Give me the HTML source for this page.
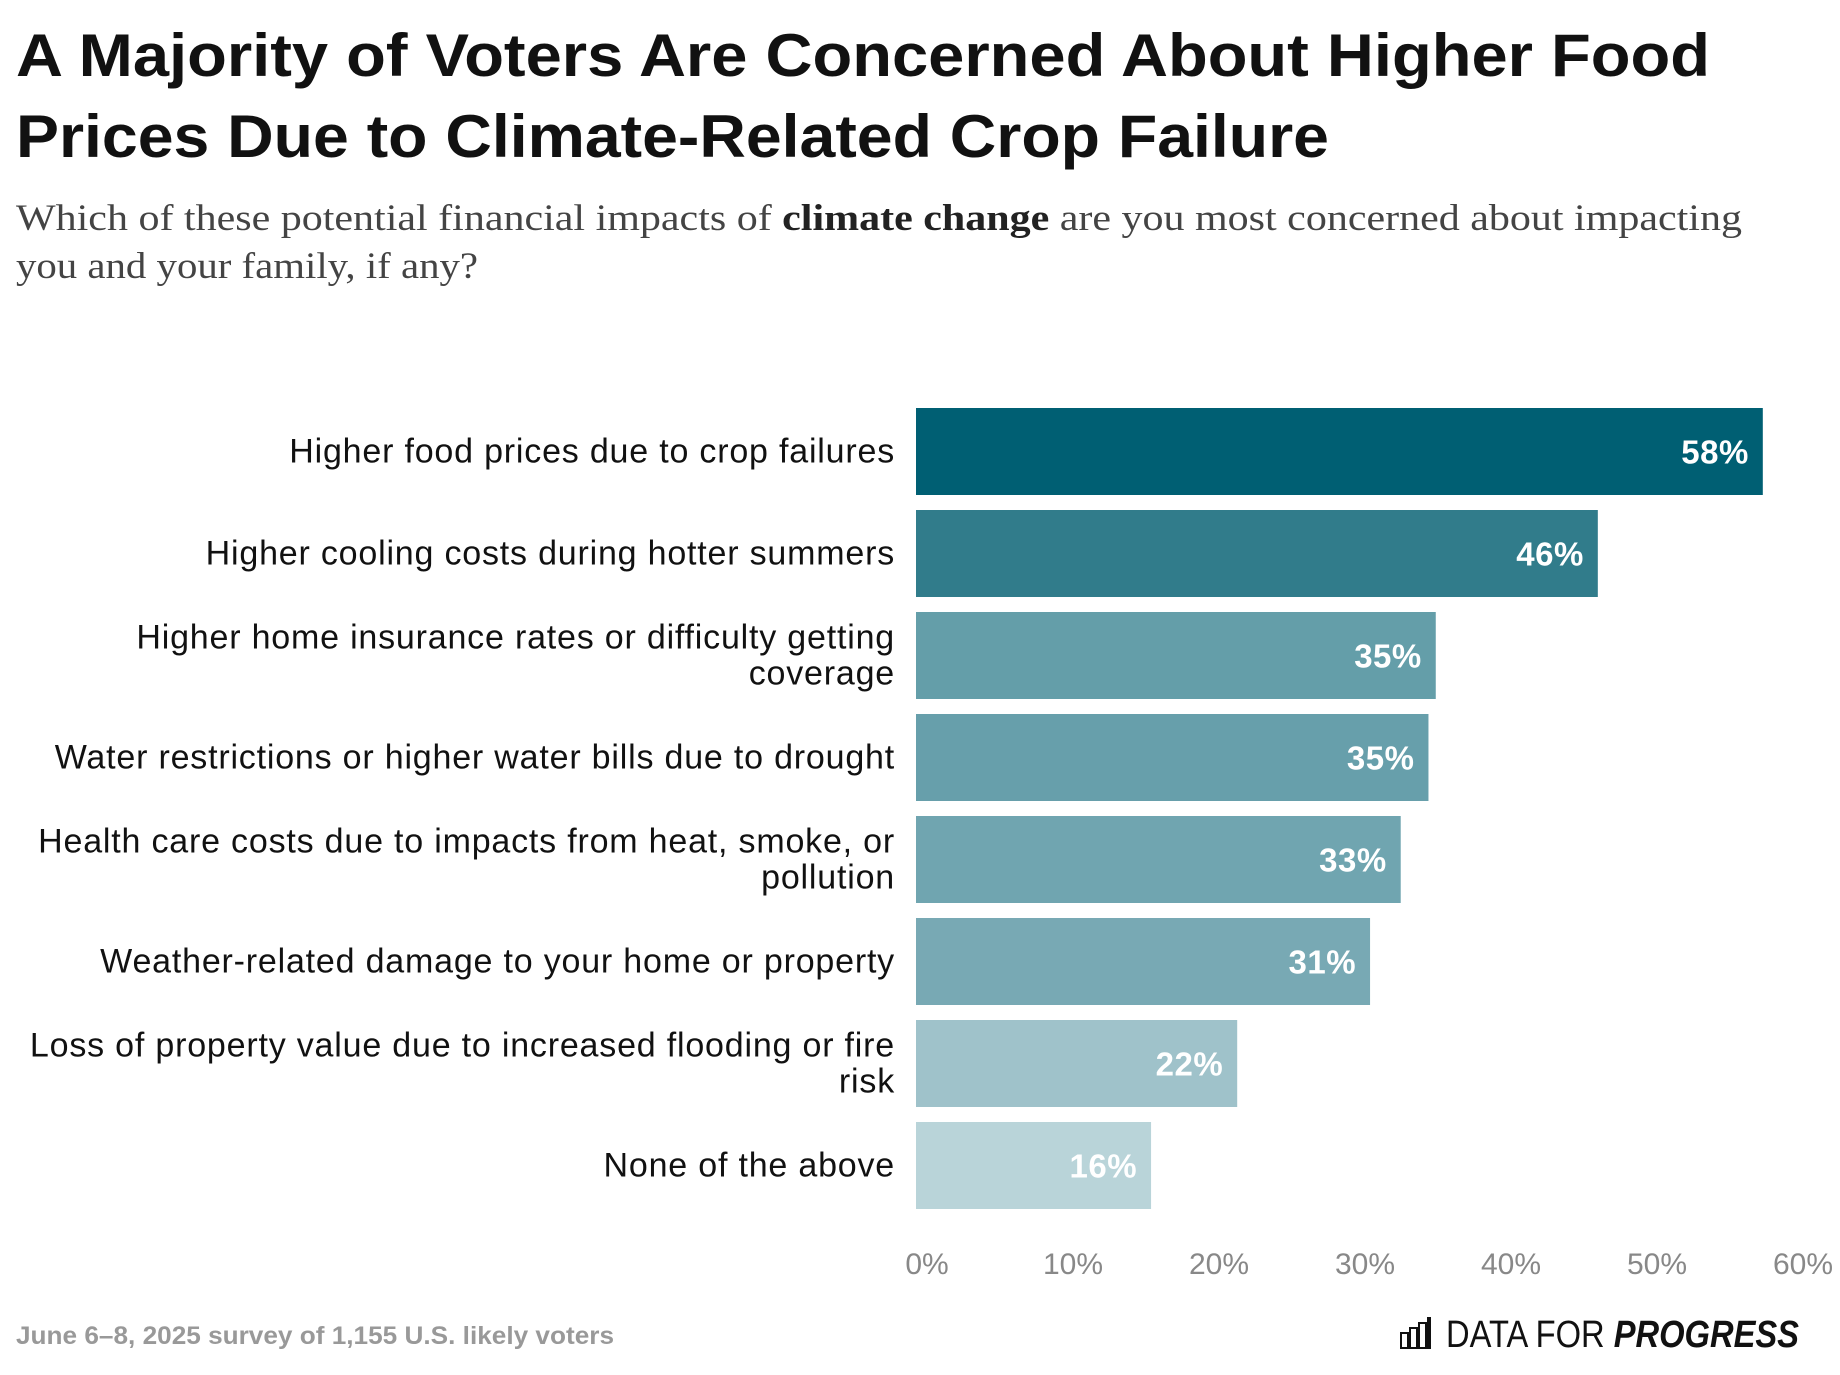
<!DOCTYPE html>
<html><head><meta charset="utf-8">
<style>
body{margin:0;background:#fff;width:1840px;height:1370px;overflow:hidden;font-family:"Liberation Sans",sans-serif;}
</style></head>
<body>
<svg id="chart" width="1840" height="1370" viewBox="0 0 1840 1370" xmlns="http://www.w3.org/2000/svg">
<text x="16" y="76" font-family="Liberation Sans, sans-serif" font-weight="bold" font-size="60" fill="#111" textLength="1694" lengthAdjust="spacingAndGlyphs">A Majority of Voters Are Concerned About Higher Food</text>
<text x="16" y="157" font-family="Liberation Sans, sans-serif" font-weight="bold" font-size="60" fill="#111" textLength="1313" lengthAdjust="spacingAndGlyphs">Prices Due to Climate-Related Crop Failure</text>
<text x="16" y="230" font-family="Liberation Serif, serif" font-size="37" fill="#444" textLength="1726" lengthAdjust="spacingAndGlyphs">Which of these potential financial impacts of <tspan font-weight="bold" fill="#222">climate change</tspan> are you most concerned about impacting</text>
<text x="16" y="278" font-family="Liberation Serif, serif" font-size="37" fill="#444" textLength="462" lengthAdjust="spacingAndGlyphs">you and your family, if any?</text>
<g id="bars"></g>
<g id="axis"></g>
<text x="16" y="1344" font-family="Liberation Sans, sans-serif" font-weight="bold" font-size="25" fill="#999" textLength="598" lengthAdjust="spacingAndGlyphs">June 6–8, 2025 survey of 1,155 U.S. likely voters</text>
<g>
<g fill="none" stroke="#111" stroke-width="2">
<rect x="1401" y="1333" width="7" height="15"/><rect x="1410" y="1328" width="7" height="20"/><rect x="1419" y="1323" width="7" height="25"/><rect x="1428" y="1318" width="2" height="30"/>
</g>
<text x="1446" y="1347" font-family="Liberation Sans, sans-serif" font-size="38" fill="#111" textLength="353" lengthAdjust="spacingAndGlyphs">DATA FOR <tspan font-weight="bold" font-style="italic">PROGRESS</tspan></text>
</g>
</svg>
<script>
const categories=[["Higher food prices due to crop failures"],["Higher cooling costs during hotter summers"],["Higher home insurance rates or difficulty getting","coverage"],["Water restrictions or higher water bills due to drought"],["Health care costs due to impacts from heat, smoke, or","pollution"],["Weather-related damage to your home or property"],["Loss of property value due to increased flooding or fire","risk"],["None of the above"]];
const values=[58,46.7,35.6,35.1,33.2,31.1,22.0,16.1];
const valueLabels=["58%","46%","35%","35%","33%","31%","22%","16%"];
const colors=["#005f73","#317c8b","#649ea9","#679fab","#70a5b0","#78a9b4","#9fc2ca","#b9d4d9"];
const ticks=[0,10,20,30,40,50,60];
const tickLabels=["0%","10%","20%","30%","40%","50%","60%"];
const NS="http://www.w3.org/2000/svg";
const x0=916,pxPer=14.6,top0=408,pitch=102,bh=87;
function x(v){return x0+v*pxPer;}
function y(i){return top0+i*pitch;}
const g=document.getElementById('bars');
values.forEach((v,i)=>{
 const r=document.createElementNS(NS,'rect');
 
 
 r.setAttribute('x',x(0));r.setAttribute('y',y(i));
 r.setAttribute('width',x(v)-x(0));r.setAttribute('height',bh);
 r.setAttribute('fill',colors[i]);g.appendChild(r);
 const t=document.createElementNS(NS,'text');
 
 
 t.setAttribute('x',x(v)-14);t.setAttribute('y',y(i)+bh/2+12);
 t.setAttribute('text-anchor','end');t.setAttribute('font-weight','bold');
 t.setAttribute('font-size','33');t.setAttribute('fill','#fff');
 t.setAttribute('letter-spacing','0.5');
 t.textContent=valueLabels[i];g.appendChild(t);
 const c=document.createElementNS(NS,'text');
 
 
 c.setAttribute('text-anchor','end');c.setAttribute('font-size','34');c.setAttribute('fill','#111');
 c.setAttribute('letter-spacing','0.8');
 const lines=categories[i];
 lines.forEach((ln,k)=>{
  const ts=document.createElementNS(NS,'tspan');
  ts.setAttribute('x',895);
  const cy=y(i)+bh/2+11-(lines.length-1)*18+k*36;
  ts.setAttribute('y',cy);ts.textContent=ln;c.appendChild(ts);
 });
 g.appendChild(c);
});
const a=document.getElementById('axis');
ticks.forEach((tv,i)=>{
 const t=document.createElementNS(NS,'text');
 
 
 t.setAttribute('x',x(tv)+11);t.setAttribute('y',1274);
 t.setAttribute('text-anchor','middle');t.setAttribute('font-size','30');t.setAttribute('fill','#888');
 t.textContent=tickLabels[i];a.appendChild(t);
});
</script>
</body></html>
